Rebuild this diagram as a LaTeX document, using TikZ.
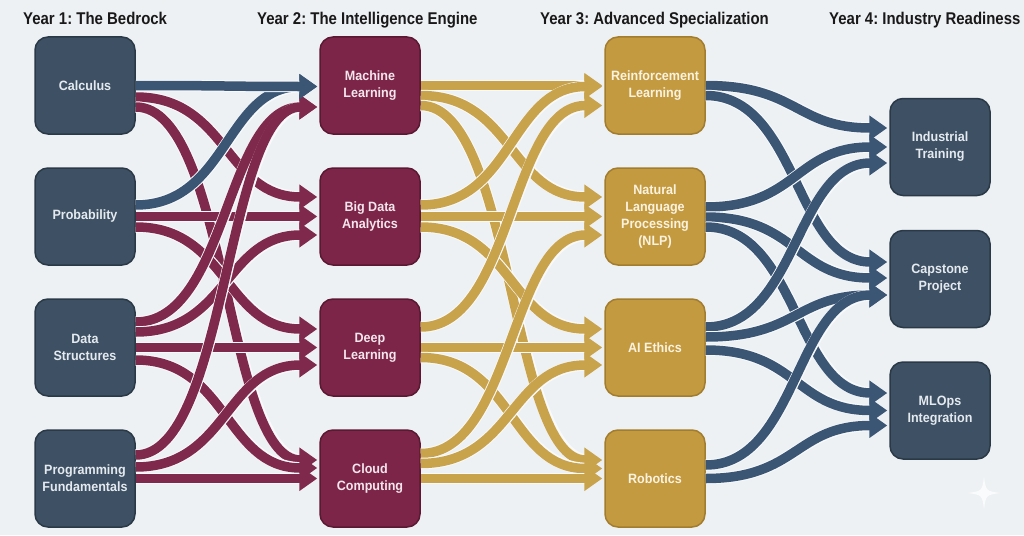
\documentclass[tikz,border=0pt]{standalone}
\usepackage{fontspec}
\setmainfont{Liberation Sans}
\newfontfamily\headfont{Liberation Sans}[FakeStretch=0.88]
\newfontfamily\boxfont{Liberation Sans}[FakeStretch=0.93]
\usetikzlibrary{arrows.meta,calc}
\frenchspacing
\definecolor{bgc}{HTML}{EEF1F4}
\definecolor{slateF}{HTML}{3E5063}
\definecolor{slateD}{HTML}{2A3947}
\definecolor{slateT}{HTML}{E4EAEF}
\definecolor{marF}{HTML}{7C2548}
\definecolor{marD}{HTML}{5A1832}
\definecolor{marT}{HTML}{F4E6EC}
\definecolor{goldF}{HTML}{C49A40}
\definecolor{goldD}{HTML}{A27D2E}
\definecolor{goldT}{HTML}{FBF3E0}
\definecolor{ablue}{HTML}{3B5675}
\definecolor{amar}{HTML}{7F2A4C}
\definecolor{agold}{HTML}{C9A34C}
\newcommand\linkE[5]{\draw[edge,#1] ($(#2.east)+(0,#3)$) .. controls +(92,0) and +(-92,0) .. ($(#4.west)+(-2,#5)$);}
\begin{document}
\begin{tikzpicture}[x=1pt,y=-1pt,
  box/.style={draw, line width=1.5pt, rounded corners=13pt, minimum width=100pt,
    minimum height=97pt, align=center, inner sep=2pt,
    font=\boxfont\bfseries\fontsize{13.5}{17}\selectfont},
  slatebox/.style={box, fill=slateF, draw=slateD, text=slateT},
  marbox/.style={box, fill=marF, draw=marD, text=marT},
  goldbox/.style={box, fill=goldF, draw=goldD, text=goldT},
  edge/.style={line width=9.5pt, -{Triangle[length=18pt,width=24pt]},
    preaction={draw=white!55!bgc, line width=11.5pt, arrows=-, shorten >=14pt}},
  head/.style={font=\headfont\bfseries\fontsize{17}{20}\selectfont, anchor=base west, inner sep=0pt, text=black!90}
]
\useasboundingbox (0,0) rectangle (1024,535);
\clip (0,0) rectangle (1024,535);
\fill[bgc] (0,0) rectangle (1024,535);

% headers
\node[head] (h1) at (23,25) {Year 1: The Bedrock};
\node[head] (h2) at (257,25) {Year 2: The Intelligence Engine};
\node[head] (h3) at (540,25) {Year 3: Advanced Specialization};
\node[head] (h4) at (829,25) {Year 4: Industry Readiness};

% year 1
\node[slatebox] (C) at (85,85.5) {Calculus};
\node[slatebox] (P) at (85,216.5) {Probability};
\node[slatebox] (D) at (85,347.5) {Data\\Structures};
\node[slatebox] (F) at (85,478.5) {Programming\\Fundamentals};
% year 2
\node[marbox] (ML) at (370,85.5) {Machine\\Learning};
\node[marbox] (BD) at (370,216.5) {Big Data\\Analytics};
\node[marbox] (DL) at (370,347.5) {Deep\\Learning};
\node[marbox] (CC) at (370,478.5) {Cloud\\Computing};
% year 3
\node[goldbox] (RL) at (655,85.5) {Reinforcement\\Learning};
\node[goldbox] (NLP) at (655,216.5) {Natural\\Language\\Processing\\(NLP)};
\node[goldbox] (AI) at (655,347.5) {AI Ethics};
\node[goldbox] (RO) at (655,478.5) {Robotics};
% year 4
\node[slatebox] (IT) at (940,147) {Industrial\\Training};
\node[slatebox] (CP) at (940,279) {Capstone\\Project};
\node[slatebox] (MO) at (940,410.5) {MLOps\\Integration};

% year 1 -> year 2
\linkE{amar}{C}{11.5}{BD}{-19.5}
\linkE{amar}{C}{21.5}{CC}{-18.5}
\linkE{amar}{P}{0}{BD}{0}
\linkE{amar}{P}{10.5}{DL}{-18.5}
\linkE{amar}{D}{-25.5}{ML}{21.5}
\linkE{amar}{D}{-15.5}{BD}{18.5}
\linkE{amar}{D}{0}{DL}{0}
\linkE{amar}{D}{12.5}{CC}{-10.5}
\linkE{amar}{F}{-23.5}{ML}{21.5}
\linkE{amar}{F}{-11.5}{DL}{17.5}
\linkE{amar}{F}{0}{CC}{0}
\linkE{ablue}{P}{-11.5}{ML}{1}
\linkE{ablue}{C}{0}{ML}{1}

% year 2 -> year 3
\linkE{agold}{ML}{0}{RL}{0}
\linkE{agold}{ML}{10}{NLP}{-19.5}
\linkE{agold}{ML}{20}{RO}{-18.5}
\linkE{agold}{BD}{-11.5}{RL}{1}
\linkE{agold}{BD}{0}{NLP}{0}
\linkE{agold}{BD}{10.5}{AI}{-18.5}
\linkE{agold}{DL}{-20.5}{RL}{20}
\linkE{agold}{DL}{0}{AI}{0}
\linkE{agold}{DL}{10}{RO}{-10}
\linkE{agold}{CC}{-25}{NLP}{18.5}
\linkE{agold}{CC}{-15}{AI}{17.5}
\linkE{agold}{CC}{0}{RO}{0}

% year 3 -> year 4
\linkE{ablue}{RL}{0}{IT}{-19}
\linkE{ablue}{RL}{10}{CP}{-17}
\linkE{ablue}{NLP}{-9.5}{IT}{0}
\linkE{ablue}{NLP}{0.5}{CP}{-1}
\linkE{ablue}{NLP}{10.5}{MO}{-17.5}
\linkE{ablue}{AI}{-20.5}{IT}{16}
\linkE{ablue}{AI}{-10.5}{CP}{16}
\linkE{ablue}{AI}{2.5}{MO}{0}
\linkE{ablue}{RO}{-13.5}{CP}{16}
\linkE{ablue}{RO}{0}{MO}{15}

% faint sparkle mark
\fill[white, opacity=0.75] (984,477) .. controls (986,491) .. (1000,493) .. controls (986,495) .. (984,509) .. controls (982,495) .. (968,493) .. controls (982,491) .. (984,477) -- cycle;
\end{tikzpicture}
\end{document}
